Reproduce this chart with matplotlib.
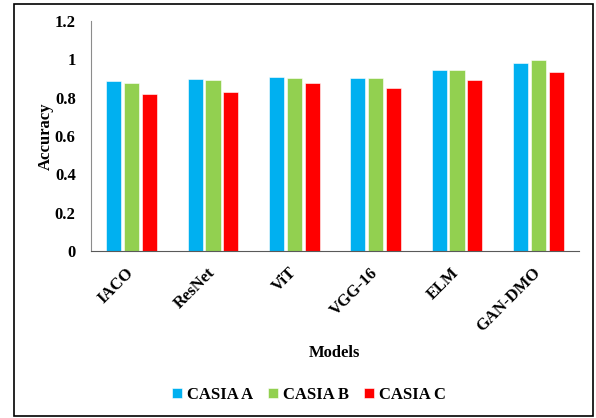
import numpy as np
import matplotlib.pyplot as plt
from matplotlib.patches import Rectangle

plt.rcParams["font.family"] = ["Liberation Serif", "DejaVu Serif"]
plt.rcParams["font.weight"] = "bold"

models = ["IACO", "ResNet", "ViT", "VGG-16", "ELM", "GAN-DMO"]
casia_a = [0.884, 0.898, 0.910, 0.904, 0.943, 0.983]
casia_b = [0.875, 0.891, 0.904, 0.904, 0.943, 0.997]
casia_c = [0.818, 0.828, 0.877, 0.849, 0.894, 0.934]

series = [
    ("CASIA A", casia_a, "#00B0F0"),
    ("CASIA B", casia_b, "#92D050"),
    ("CASIA C", casia_c, "#FF0000"),
]

fig = plt.figure(figsize=(5.96, 4.18), dpi=100)
ax = fig.add_axes([0.1527, 0.3995, 0.8188, 0.5505])

x = np.arange(len(models))
width = 0.185
step = 0.22
for i, (label, values, color) in enumerate(series):
    ax.bar(x + (i - 1) * step, values, width, color=color, label=label,
           edgecolor="white", linewidth=0.4)

ax.set_xlim(-0.5, len(models) - 0.5)
ax.set_ylim(0, 1.2)
ax.set_yticks([0, 0.2, 0.4, 0.6, 0.8, 1.0, 1.2])
ax.set_yticklabels(["0", "0.2", "0.4", "0.6", "0.8", "1", "1.2"])
ax.set_xticks(x)
ax.set_xticklabels(models, rotation=45, ha="right", va="center",
                   rotation_mode="anchor")
ax.tick_params(axis="both", length=0, labelsize=12)
ax.tick_params(axis="x", pad=14)
ax.tick_params(axis="y", pad=11)

for side in ("top", "right"):
    ax.spines[side].set_visible(False)
ax.spines["left"].set_color("#8c8c8c")
ax.spines["bottom"].set_color("#595959")

ax.set_ylabel("Accuracy", fontsize=12, fontweight="bold")
ax.yaxis.set_label_coords(-0.076, 0.5)
fig.text(0.562, 0.155, "Models", ha="center", va="center", fontsize=12,
         fontweight="bold")

fig.legend(loc="center", bbox_to_anchor=(0.518, 0.055), ncol=3,
           frameon=False, fontsize=12, handlelength=0.6, handleheight=0.6,
           handletextpad=0.3, columnspacing=0.9)

# outer frame
fig.patches.append(Rectangle((14 / 596, 2 / 418), 579 / 596, 412 / 418,
                             transform=fig.transFigure, fill=False,
                             edgecolor="black", linewidth=1.2))

fig.savefig("out.png", dpi=100)
